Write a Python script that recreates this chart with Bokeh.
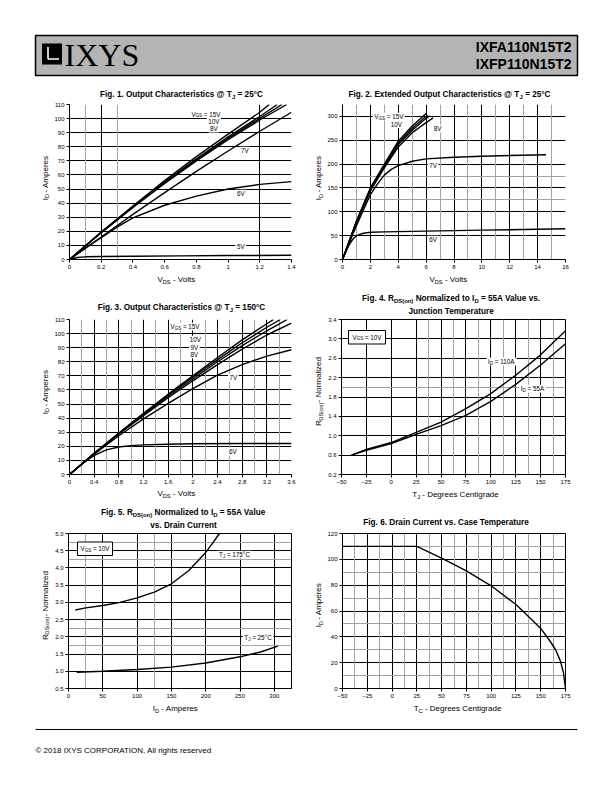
import math
from bokeh.plotting import figure
from bokeh.models import Range1d, FixedTicker, Grid
from bokeh.layouts import column, row
from bokeh.embed import file_html
from bokeh.resources import INLINE
from bokeh.core.properties import value

# ------------------------------------------------------------------ data
# Fig 1: Output characteristics @ Tj = 25C  (VDS volts, ID amperes)
f1_vds_15 = [0, 0.2, 0.4, 0.6, 0.8, 1.0, 1.2, 1.26]
f1_id_15 = [0, 19.5, 38, 56, 73, 89, 104.5, 110]
f1_vds_10 = [0, 0.2, 0.4, 0.6, 0.8, 1.0, 1.2, 1.31]
f1_id_10 = [0, 19.3, 37.5, 55, 71.5, 87, 101.5, 110]
f1_vds_9 = [0, 0.2, 0.4, 0.6, 0.8, 1.0, 1.2, 1.34]
f1_id_9 = [0, 19.1, 37.2, 54.5, 70.7, 86, 100.2, 110]
f1_vds_8 = [0, 0.2, 0.4, 0.6, 0.8, 1.0, 1.2, 1.37]
f1_id_8 = [0, 19, 37, 54, 70, 85, 99, 110]
f1_vds_7 = [0, 0.2, 0.4, 0.6, 0.8, 1.0, 1.2, 1.4]
f1_id_7 = [0, 16, 32, 47.5, 62.5, 77, 91, 104.5]
f1_vds_6 = [0, 0.1, 0.2, 0.3, 0.4, 0.6, 0.8, 1.0, 1.2, 1.4]
f1_id_6 = [0, 8, 15.5, 23, 29.5, 38.5, 45, 50, 53.3, 55.3]
f1_vds_5 = [0, 0.05, 0.1, 0.2, 0.4, 0.7, 1.0, 1.4]
f1_id_5 = [0, 1.4, 1.9, 2.1, 2.3, 2.6, 2.8, 3.0]
f1_xticks = [0, 0.2, 0.4, 0.6, 0.8, 1.0, 1.2, 1.4]
f1_xlabels = ["0", "0.2", "0.4", "0.6", "0.8", "1", "1.2", "1.4"]
f1_yticks = [0, 10, 20, 30, 40, 50, 60, 70, 80, 90, 100, 110]

# Fig 2: Extended output characteristics @ Tj = 25C
f2_vds_15 = [0, 0.5, 1, 2, 3, 4, 5, 6]
f2_id_15 = [0, 40, 80, 150, 200, 248, 280, 306]
f2_vds_10 = [0, 0.5, 1, 2, 3, 4, 5, 6.1]
f2_id_10 = [0, 40, 79.5, 148.5, 197, 244, 275, 303]
f2_vds_9 = [0, 0.5, 1, 2, 3, 4, 5, 6, 6.25]
f2_id_9 = [0, 39.5, 78.5, 146.5, 195, 241, 271, 296, 301]
f2_vds_8 = [0, 0.5, 1, 2, 3, 4, 5, 6, 6.5]
f2_id_8 = [0, 39, 77, 144, 192, 236, 266, 287, 297]
f2_vds_7 = [0, 0.5, 1, 1.5, 2, 2.5, 3, 3.5, 4, 5, 6, 8, 10, 12, 14.6]
f2_id_7 = [0, 36, 71, 104, 136, 158, 177, 189, 197, 206, 211, 214.5, 216.5, 218, 219.5]
f2_vds_6 = [0, 0.25, 0.5, 0.75, 1, 1.5, 2, 3, 4, 6, 8, 10, 12, 14, 16]
f2_id_6 = [0, 17, 32, 43, 50, 55, 57, 58, 58.5, 59.5, 60.5, 61.5, 62.5, 63.5, 64.5]
f2_xticks = [0, 2, 4, 6, 8, 10, 12, 14, 16]
f2_yticks = [0, 50, 100, 150, 200, 250, 300]

# Fig 3: Output characteristics @ Tj = 150C
f3_vds_15 = [0, 0.4, 0.8, 1.2, 1.6, 2.0, 2.4, 2.8, 3.2, 3.31]
f3_id_15 = [0, 15, 29.5, 43.5, 57, 70, 83, 95.5, 107, 110]
f3_vds_10 = [0, 0.4, 0.8, 1.2, 1.6, 2.0, 2.4, 2.8, 3.2, 3.42]
f3_id_10 = [0, 15, 29.3, 43, 56.5, 69, 81.5, 93.5, 104.5, 110]
f3_vds_9 = [0, 0.4, 0.8, 1.2, 1.6, 2.0, 2.4, 2.8, 3.2, 3.53]
f3_id_9 = [0, 14.9, 29, 42.5, 55.5, 67.8, 80, 91.5, 102, 110]
f3_vds_8 = [0, 0.4, 0.8, 1.2, 1.6, 2.0, 2.4, 2.8, 3.2, 3.6]
f3_id_8 = [0, 14.8, 28.7, 41.8, 54.5, 66.5, 78, 89, 99, 107.5]
f3_vds_7 = [0, 0.4, 0.8, 1.2, 1.6, 2.0, 2.4, 2.8, 3.2, 3.6]
f3_id_7 = [0, 14.5, 27.5, 39.5, 50.5, 61, 70.5, 78, 84, 88.5]
f3_vds_6 = [0, 0.2, 0.4, 0.6, 0.8, 1.0, 1.2, 1.6, 2.0, 2.8, 3.6]
f3_id_6 = [0, 7.5, 13.5, 17.5, 19.5, 20.5, 21, 21.5, 21.8, 22, 22]
f3_xticks = [0, 0.4, 0.8, 1.2, 1.6, 2.0, 2.4, 2.8, 3.2, 3.6]
f3_xlabels = ["0", "0.4", "0.8", "1.2", "1.6", "2", "2.4", "2.8", "3.2", "3.6"]
f3_yticks = [0, 10, 20, 30, 40, 50, 60, 70, 80, 90, 100, 110]

# Fig 4: RDS(on) normalized vs junction temperature
f4_tj = [-40, -25, 0, 25, 50, 75, 100, 125, 150, 175]
f4_r_110a = [0.6, 0.72, 0.86, 1.07, 1.28, 1.56, 1.87, 2.25, 2.67, 3.17]
f4_r_55a = [0.6, 0.70, 0.84, 1.03, 1.21, 1.42, 1.71, 2.06, 2.46, 2.9]
f4_xticks = [-50, -25, 0, 25, 50, 75, 100, 125, 150, 175]
f4_yticks = [0.2, 0.6, 1.0, 1.4, 1.8, 2.2, 2.6, 3.0, 3.4]
f4_ylabels = ["0.2", "0.6", "1.0", "1.4", "1.8", "2.2", "2.6", "3.0", "3.4"]

# Fig 5: RDS(on) normalized vs drain current
f5_id_175 = [10, 25, 50, 75, 100, 125, 150, 175, 200, 210, 220]
f5_r_175 = [2.78, 2.84, 2.91, 3.0, 3.13, 3.3, 3.54, 3.92, 4.45, 4.72, 5.0]
f5_id_25 = [12, 50, 100, 150, 200, 250, 280, 305]
f5_r_25 = [0.97, 1.0, 1.05, 1.12, 1.24, 1.42, 1.56, 1.73]
f5_xticks = [0, 50, 100, 150, 200, 250, 300]
f5_yticks = [0.5, 1.0, 1.5, 2.0, 2.5, 3.0, 3.5, 4.0, 4.5, 5.0]
f5_ylabels = ["0.5", "1.0", "1.5", "2.0", "2.5", "3.0", "3.5", "4.0", "4.5", "5.0"]

# Fig 6: Drain current vs case temperature
f6_tc = [-50, 25, 50, 75, 100, 125, 140, 150, 160, 165, 170, 173, 175]
f6_id = [110, 110, 101, 91, 79.5, 65, 54, 46.5, 36, 30, 21, 12, 0]
f6_xticks = [-50, -25, 0, 25, 50, 75, 100, 125, 150, 175]
f6_yticks = [0, 20, 40, 60, 80, 100, 120]

# ------------------------------------------------------------------ style helpers
FONT = "Liberation Sans"
GRAY = "#a3a3a3"

_UP = "ABCDEFGHIJKLMNOPQRSTUVWXYZ"
_LO = "abcdefghijklmnopqrstuvwxyz"
REG = {c: w for c, w in zip(_UP, [667, 667, 722, 722, 667, 611, 778, 722, 278, 500, 667, 556, 833,
                                  722, 778, 667, 778, 722, 667, 611, 722, 667, 944, 667, 667, 611])}
REG.update({c: w for c, w in zip(_LO, [556, 556, 500, 556, 556, 278, 556, 556, 222, 222, 500, 222, 833,
                                       556, 556, 556, 556, 333, 500, 278, 556, 500, 722, 500, 500, 500])})
REG.update({" ": 278, "(": 333, ")": 333, ",": 278, "-": 333, ".": 278, ":": 278, "=": 584,
            "@": 1015, "\u00b0": 400, "\u00a9": 737})
BOLD = {c: w for c, w in zip(_UP, [722, 722, 722, 722, 667, 611, 778, 722, 278, 556, 722, 611, 833,
                                   722, 778, 667, 778, 722, 667, 611, 722, 667, 944, 667, 667, 611])}
BOLD.update({c: w for c, w in zip(_LO, [556, 611, 556, 611, 556, 333, 611, 611, 278, 278, 556, 278, 889,
                                        611, 611, 611, 611, 389, 556, 333, 611, 556, 778, 556, 556, 500])})
BOLD.update({" ": 278, "(": 333, ")": 333, ",": 278, "-": 333, ".": 278, ":": 333, "=": 584,
             "@": 975, "\u00b0": 400})


def twidth(s, size, bold=False):
    tbl = BOLD if bold else REG
    return sum(tbl.get(c, 556) for c in s) * size / 1000.0


class Fr:
    """maps page pixel positions to a figure's data coordinates"""
    def __init__(self, p, left, top, w, h, xr, yr):
        self.p, self.left, self.top, self.w, self.h = p, left, top, w, h
        self.x0, self.x1 = xr
        self.y0, self.y1 = yr

    def dx(self, px):
        return self.x0 + (px - self.left) / self.w * (self.x1 - self.x0)

    def dy(self, py):
        return self.y0 + (self.top + self.h - py) / self.h * (self.y1 - self.y0)


def rich(fr, segs, cx, cy, size, bold=False, align="center", vertical=False, bg=False):
    """text made of normal and subscript pieces; leading spaces become offsets
    (svg would otherwise drop them)"""
    p = fr.p
    sub = size * 0.72
    sizes = [sub if s else size for t, s in segs]
    ws = [twidth(t, sz, bold) for (t, s), sz in zip(segs, sizes)]
    total = sum(ws)
    style = "bold" if bold else "normal"
    if not vertical:
        x = {"center": cx - total / 2, "left": cx, "right": cx - total}[align]
        if bg:
            p.quad(left=[fr.dx(x - 1.5)], right=[fr.dx(x + total + 1.5)],
                   top=[fr.dy(cy - 0.6 * size)], bottom=[fr.dy(cy + 0.65 * size)],
                   fill_color="white", line_color=None)
    else:
        x = cy + total / 2
    for (t, s), sz, w in zip(segs, sizes, ws):
        lead = twidth(t[:len(t) - len(t.lstrip(" "))], sz, bold)
        txt = t.strip(" ")
        shift = 0.28 * size if s else 0
        if vertical:
            px, py, ang = cx + shift, x - lead, math.pi / 2
            x -= w
        else:
            px, py, ang = x + lead, cy + shift, 0
            x += w
        p.text(x=[fr.dx(px)], y=[fr.dy(py)], text=[txt], angle=ang,
               text_font=value(FONT), text_font_style=style,
               text_font_size=f"{sz:.2f}px", text_color="black",
               text_align="left", text_baseline="middle")


def strip(x0, y0, w, h):
    """plain text strip in page pixel coordinates (y negated so the range is not inverted)"""
    p = figure(width=w, height=h, x_range=Range1d(x0, x0 + w), y_range=Range1d(-(y0 + h), -y0),
               output_backend="svg", toolbar_location=None, title_location=None,
               x_axis_location=None, y_axis_location=None, min_border=0)
    p.grid.visible = False
    p.outline_line_color = None
    p.background_fill_color = None
    p.border_fill_color = None
    return p, Fr(p, x0, y0, w, h, (x0, x0 + w), (-(y0 + h), -y0))


def chart(fig_x0, fig_y0, fig_w, fig_h, left, top, w, h, xr, yr, outline,
          xticks, yticks, xlabels=None, ylabels=None,
          xblack=(), xgray=(), yblack=(), ygray=()):
    bl = left - fig_x0
    bt = top - fig_y0
    p = figure(width=fig_w, height=fig_h, x_range=Range1d(*xr), y_range=Range1d(*yr),
               output_backend="svg", toolbar_location=None, title_location=None,
               min_border_left=bl, min_border_right=fig_w - bl - w,
               min_border_top=bt, min_border_bottom=fig_h - bt - h)
    p.background_fill_color = "white"
    p.border_fill_color = "white"
    p.outline_line_color = "black" if outline else None
    p.outline_line_width = 1
    p.xaxis.ticker = FixedTicker(ticks=xticks)
    p.yaxis.ticker = FixedTicker(ticks=yticks)
    if xlabels:
        p.xaxis.major_label_overrides = dict(zip(xticks, xlabels))
    if ylabels:
        p.yaxis.major_label_overrides = dict(zip(yticks, ylabels))
    p.axis.axis_line_color = "black"
    p.axis.axis_line_width = 1
    p.axis.major_tick_line_color = "black"
    p.axis.major_tick_out = 3
    p.axis.major_tick_in = 0
    p.axis.minor_tick_line_color = None
    p.axis.major_label_text_font = FONT
    p.axis.major_label_text_font_size = "6px"
    p.axis.major_label_text_color = "black"
    p.axis.major_label_standoff = 2
    p.xgrid.ticker = FixedTicker(ticks=list(xblack))
    p.ygrid.ticker = FixedTicker(ticks=list(yblack))
    p.grid.grid_line_color = "black"
    p.grid.grid_line_width = 1
    if xgray:
        p.add_layout(Grid(dimension=0, ticker=FixedTicker(ticks=list(xgray)),
                          grid_line_color=GRAY, grid_line_width=1))
    if ygray:
        p.add_layout(Grid(dimension=1, ticker=FixedTicker(ticks=list(ygray)),
                          grid_line_color=GRAY, grid_line_width=1))
    return p, Fr(p, left, top, w, h, xr, yr)


def curve(p, x, y):
    p.line(x, y, line_color="black", line_width=1.4)


def vbox(fr, l, t, r, b):
    fr.p.quad(left=[fr.dx(l)], right=[fr.dx(r)], top=[fr.dy(t)], bottom=[fr.dy(b)],
              fill_color="white", line_color="black", line_width=1)


TS = 8.2   # title size
AS = 8.0   # axis label size
LS = 6.3   # curve label size

# ---------------------------------------------------------------- page layout (px)
PX0, PW = 8, 596
YL_L = (8, 43)        # left y-label strip x0, width
CH_L = (51, 257)      # left chart x0, width
YL_R = (308, 16)
CH_R = (324, 280)
CH_H = 173
YLX_L, YLX_R = 44.5, 317.8   # y-label centres
ROWS = [  # title strip y0,h ; chart y0 ; x-label strip y0,h
    (88, 12, 100, 273, 17),
    (290, 25, 315, 488, 15),
    (503, 26, 529, 702, 14),
]

# ------------------------------------------------------------------ header
hdr, hf = strip(PX0, 8, PW, 80)
hdr.quad(left=[35], right=[577], top=[hf.dy(35)], bottom=[hf.dy(75)], fill_color="#b4b4b4",
         line_color="black", line_width=1.5)
hdr.quad(left=[41.5], right=[61.5], top=[hf.dy(43)], bottom=[hf.dy(64)], fill_color="black", line_color=None)
hdr.segment(x0=[47.5, 47.5], y0=[hf.dy(46.5), hf.dy(58.5)], x1=[47.5, 58.5], y1=[hf.dy(58.5), hf.dy(58.5)],
            line_color="white", line_width=1.6)
hdr.text(x=[64], y=[hf.dy(54.5)], text=["IXYS"], text_font=value("Liberation Serif"),
         text_font_size="32px", text_baseline="middle", text_color="black")
hdr.text(x=[571, 571], y=[hf.dy(46), hf.dy(63)], text=["IXFA110N15T2", "IXFP110N15T2"],
         text_font=value(FONT), text_font_style="bold", text_font_size="14px",
         text_align="right", text_baseline="middle", text_color="black")

# strips per row
ts, xs_, yls = [], [], []
for (ty, th, cy0, xy, xh) in ROWS:
    ts.append(strip(PX0, ty, PW, th))
    xs_.append(strip(PX0, xy, PW, xh))
    yls.append((strip(YL_L[0], cy0, YL_L[1], CH_H), strip(YL_R[0], cy0, YL_R[1], CH_H)))

# ------------------------------------------------------------------ Fig 1
p1, fr1 = chart(CH_L[0], ROWS[0][2], CH_L[1], CH_H, 68, 104, 223, 155, (0, 1.4), (0, 110), False,
                f1_xticks, f1_yticks, xlabels=f1_xlabels,
                xblack=[0.2, 1.2], xgray=[0.1, 0.3], yblack=f1_yticks)
for xs, ys in [(f1_vds_15, f1_id_15), (f1_vds_10, f1_id_10), (f1_vds_9, f1_id_9),
               (f1_vds_8, f1_id_8), (f1_vds_7, f1_id_7), (f1_vds_6, f1_id_6),
               (f1_vds_5, f1_id_5)]:
    curve(p1, xs, ys)
rich(ts[0][1], [("Fig. 1. Output Characteristics @ T", 0), ("J", 1), (" = 25\u00b0C", 0)], 181, 94, TS, bold=True)
rich(xs_[0][1], [("V", 0), ("DS", 1), (" - Volts", 0)], 176, 279, AS)
rich(yls[0][0][1], [("I", 0), ("D", 1), (" - Amperes", 0)], YLX_L, 184, AS, vertical=True)
rich(fr1, [("V", 0), ("GS", 1), (" = 15V", 0)], 205, 113.5, LS, bg=True)
rich(fr1, [("10V", 0)], 213, 121, LS, bg=True)
rich(fr1, [("8V", 0)], 213, 128, LS, bg=True)
rich(fr1, [("7V", 0)], 244, 150, LS, bg=True)
rich(fr1, [("6V", 0)], 240, 193, LS, bg=True)
rich(fr1, [("5V", 0)], 240, 245.5, LS, bg=True)

# ------------------------------------------------------------------ Fig 2
p2, fr2 = chart(CH_R[0], ROWS[0][2], CH_R[1], CH_H, 341, 104, 224, 155, (0, 16), (0, 325), False,
                f2_xticks, f2_yticks,
                xblack=[2, 4, 6, 8, 10, 12, 14, 16], xgray=[1, 3, 5, 7, 9, 11, 13, 15],
                yblack=[50, 100, 150, 200, 250, 300], ygray=[125, 175])
for xs, ys in [(f2_vds_15, f2_id_15), (f2_vds_10, f2_id_10), (f2_vds_9, f2_id_9),
               (f2_vds_8, f2_id_8), (f2_vds_7, f2_id_7), (f2_vds_6, f2_id_6)]:
    curve(p2, xs, ys)
rich(ts[0][1], [("Fig. 2. Extended Output Characteristics @ T", 0), ("J", 1), (" = 25\u00b0C", 0)], 449, 94, TS, bold=True)
rich(xs_[0][1], [("V", 0), ("DS", 1), (" - Volts", 0)], 448, 279, AS)
rich(yls[0][1][1], [("I", 0), ("D", 1), (" - Amperes", 0)], YLX_R, 184, AS, vertical=True)
rich(fr2, [("V", 0), ("GS", 1), (" = 15V", 0)], 387.5, 116, LS, bg=True)
rich(fr2, [("10V", 0)], 395, 123.5, LS, bg=True)
rich(fr2, [("8V", 0)], 436.5, 128, LS, bg=True)
rich(fr2, [("7V", 0)], 432, 165, LS, bg=True)
rich(fr2, [("6V", 0)], 432, 239, LS, bg=True)

# ------------------------------------------------------------------ Fig 3
p3, fr3 = chart(CH_L[0], ROWS[1][2], CH_L[1], CH_H, 68, 319, 223, 155, (0, 3.6), (0, 110), False,
                f3_xticks, f3_yticks, xlabels=f3_xlabels,
                xblack=[0.4, 0.8, 1.2, 1.6, 2.0, 2.4, 2.8, 3.2, 3.6],
                xgray=[0.2, 0.6, 1.0, 1.4, 1.8, 2.2, 2.6, 3.0, 3.4],
                yblack=f3_yticks)
for xs, ys in [(f3_vds_15, f3_id_15), (f3_vds_10, f3_id_10), (f3_vds_9, f3_id_9),
               (f3_vds_8, f3_id_8), (f3_vds_7, f3_id_7), (f3_vds_6, f3_id_6)]:
    curve(p3, xs, ys)
rich(ts[1][1], [("Fig. 3. Output Characteristics @ T", 0), ("J", 1), (" = 150\u00b0C", 0)], 181, 307, TS, bold=True)
rich(xs_[1][1], [("V", 0), ("DS", 1), (" - Volts", 0)], 176, 493, AS)
rich(yls[1][0][1], [("I", 0), ("D", 1), (" - Amperes", 0)], YLX_L, 398, AS, vertical=True)
rich(fr3, [("V", 0), ("GS", 1), (" = 15V", 0)], 184, 326, LS, bg=True)
rich(fr3, [("10V", 0)], 194.5, 339, LS, bg=True)
rich(fr3, [("9V", 0)], 193.5, 346.5, LS, bg=True)
rich(fr3, [("8V", 0)], 193.5, 354, LS, bg=True)
rich(fr3, [("7V", 0)], 232.5, 377, LS, bg=True)
rich(fr3, [("6V", 0)], 232, 451, LS, bg=True)

# ------------------------------------------------------------------ Fig 4
p4, fr4 = chart(CH_R[0], ROWS[1][2], CH_R[1], CH_H, 341, 319, 224, 155, (-50, 175), (0.2, 3.4), True,
                f4_xticks, f4_yticks, ylabels=f4_ylabels,
                xblack=[-25, 0, 25, 50, 75, 100, 125, 150],
                xgray=[37.5, 62.5, 87.5, 112.5, 137.5, 162.5],
                yblack=[0.6, 1.0, 1.4, 1.8, 2.2, 2.6, 3.0], ygray=[2.0])
curve(p4, f4_tj, f4_r_110a)
curve(p4, f4_tj, f4_r_55a)
rich(ts[1][1], [("Fig. 4. R", 0), ("DS(on)", 1), (" Normalized to I", 0), ("D", 1), (" = 55A Value vs.", 0)], 451, 298, TS, bold=True)
rich(ts[1][1], [("Junction Temperature", 0)], 451, 310.5, TS, bold=True)
rich(xs_[1][1], [("T", 0), ("J", 1), (" - Degrees Centigrade", 0)], 455, 494, AS)
rich(yls[1][1][1], [("R", 0), ("DS(on)", 1), (" - Normalized", 0)], YLX_R, 398, AS, vertical=True)
vbox(fr4, 348, 330, 385, 343.5)
rich(fr4, [("V", 0), ("GS", 1), (" = 10V", 0)], 366.5, 336.5, LS)
rich(fr4, [("I", 0), ("D", 1), (" = 110A", 0)], 501, 361, LS, bg=True)
rich(fr4, [("I", 0), ("D", 1), (" = 55A", 0)], 532, 388, LS, bg=True)

# ------------------------------------------------------------------ Fig 5
p5, fr5 = chart(CH_L[0], ROWS[2][2], CH_L[1], CH_H, 68, 533, 223, 155, (0, 325), (0.5, 5.0), True,
                f5_xticks, f5_yticks, ylabels=f5_ylabels,
                xblack=[50, 100, 150, 200, 250, 300], xgray=[25, 125],
                yblack=[1.0, 1.5, 2.0, 2.5, 3.0, 3.5, 4.0, 4.5], ygray=[1.75, 2.25, 4.25, 4.75])
curve(p5, f5_id_175, f5_r_175)
curve(p5, f5_id_25, f5_r_25)
rich(ts[2][1], [("Fig. 5. R", 0), ("DS(on)", 1), (" Normalized to I", 0), ("D", 1), (" = 55A Value", 0)], 183, 512, TS, bold=True)
rich(ts[2][1], [("vs. Drain Current", 0)], 183, 524.5, TS, bold=True)
rich(xs_[2][1], [("I", 0), ("D", 1), (" - Amperes", 0)], 175, 708, AS)
rich(yls[2][0][1], [("R", 0), ("DS(on)", 1), (" - Normalized", 0)], YLX_L, 612, AS, vertical=True)
vbox(fr5, 77, 541.5, 112, 555)
rich(fr5, [("V", 0), ("GS", 1), (" = 10V", 0)], 94.5, 548, LS)
rich(fr5, [("T", 0), ("J", 1), (" = 175\u00b0C", 0)], 234, 554, LS, bg=True)
rich(fr5, [("T", 0), ("J", 1), (" = 25\u00b0C", 0)], 257.5, 637, LS, bg=True)

# ------------------------------------------------------------------ Fig 6
p6, fr6 = chart(CH_R[0], ROWS[2][2], CH_R[1], CH_H, 341, 533, 224, 155, (-50, 175), (0, 120), True,
                f6_xticks, f6_yticks,
                xblack=[-25, 0, 25, 50, 75, 100, 125, 150],
                xgray=[-37.5, -12.5, 12.5, 37.5, 62.5, 87.5, 112.5, 137.5, 162.5],
                yblack=[20, 40, 60, 80, 100], ygray=[10, 30, 50, 70, 90, 110])
curve(p6, f6_tc, f6_id)
rich(ts[2][1], [("Fig. 6. Drain Current vs. Case Temperature", 0)], 446, 522, TS, bold=True)
rich(xs_[2][1], [("T", 0), ("C", 1), (" - Degrees Centigrade", 0)], 457, 708, AS)
rich(yls[2][1][1], [("I", 0), ("D", 1), (" - Amperes", 0)], YLX_R, 611, AS, vertical=True)

# ------------------------------------------------------------------ footer
ftr, ff = strip(PX0, 716, PW, 68)
ftr.segment(x0=[35], y0=[ff.dy(729)], x1=[577], y1=[ff.dy(729)], line_color="black", line_width=1)
ftr.text(x=[35], y=[ff.dy(750)], text=["\u00a9 2018 IXYS CORPORATION,  All rights reserved"],
         text_font=value(FONT), text_font_size="8px", text_baseline="middle", text_color="black")

charts = [(p1, p2), (p3, p4), (p5, p6)]
items = [hdr]
for i in range(3):
    items.append(ts[i][0])
    items.append(row(yls[i][0][0], charts[i][0], yls[i][1][0], charts[i][1]))
    items.append(xs_[i][0])
items.append(ftr)
root = column(*items, margin=(8, 8, 8, 8))
open("out.html", "w").write(file_html(root, INLINE))
